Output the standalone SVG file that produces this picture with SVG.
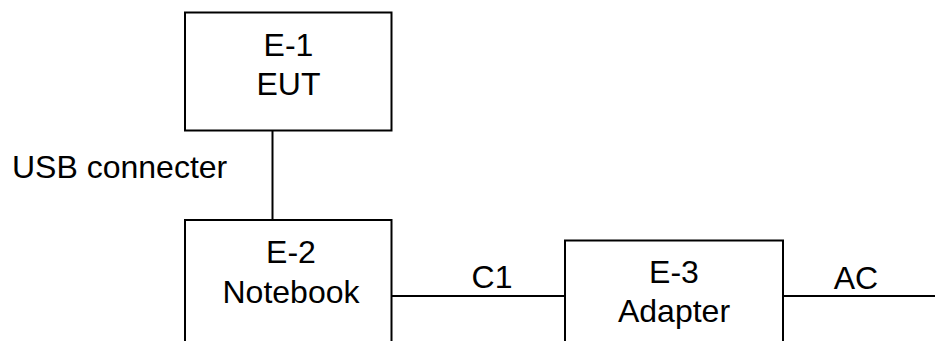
<svg xmlns="http://www.w3.org/2000/svg" width="935" height="341" viewBox="0 0 935 341">
<style>
.box{fill:#fff;stroke:#000;stroke-width:2}
.ln{fill:none;stroke:#000;stroke-width:2}
text{font-family:"Liberation Sans",Arial,sans-serif;font-size:32px;fill:#000}
.c{text-anchor:middle}
</style>
<rect width="935" height="341" fill="#fff"/>
<g id="connectors">
<line class="ln" x1="272.5" y1="130" x2="272.5" y2="220"/>
<line class="ln" x1="392" y1="296" x2="565" y2="296"/>
<line class="ln" x1="783" y1="296" x2="935" y2="296"/>
<text x="12" y="177.5">USB connecter</text>
<text class="c" x="492" y="288">C1</text>
<text class="c" x="856" y="289">AC</text>
</g>
<g id="E1">
<rect class="box" x="185" y="12.5" width="206.5" height="118"/>
<text class="c" x="288.5" y="56">E-1</text>
<text class="c" x="288.5" y="94.5">EUT</text>
</g>
<g id="E2">
<rect class="box" x="185" y="220" width="206.5" height="140"/>
<text class="c" x="291" y="263">E-2</text>
<text class="c" x="291" y="302.5">Notebook</text>
</g>
<g id="E3">
<rect class="box" x="565" y="240.5" width="218" height="120"/>
<text class="c" x="674" y="283">E-3</text>
<text class="c" x="674" y="321.5">Adapter</text>
</g>
</svg>
